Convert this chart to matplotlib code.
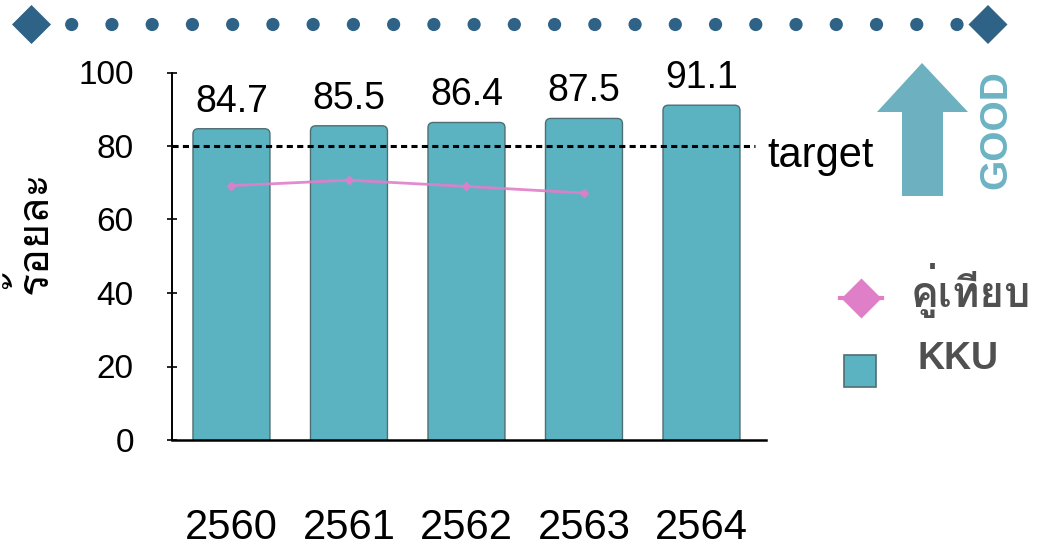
import numpy as np
import matplotlib
matplotlib.use("Agg")
import matplotlib.pyplot as plt
from matplotlib import font_manager
from matplotlib.ft2font import FT2Font
from matplotlib.patches import FancyBboxPatch, Polygon
from matplotlib.lines import Line2D

years = ["2560", "2561", "2562", "2563", "2564"]
kku = [84.7, 85.5, 86.4, 87.5, 91.1]
peer = [69.2, 70.7, 69.0, 67.2]
target = 80

# look for an installed font that can draw Thai
thai_font = None
for f in font_manager.fontManager.ttflist:
    try:
        if ord("ร") in FT2Font(f.fname).get_charmap():
            thai_font = f.name
            break
    except Exception:
        pass
thai_family = [thai_font, "DejaVu Sans"] if thai_font else ["DejaVu Sans"]

plt.rcParams["font.family"] = ["Liberation Sans", "DejaVu Sans"]

W, H = 1038, 547
fig = plt.figure(figsize=(W / 100, H / 100), dpi=100)

bar_col = "#5bb3c2"
edge_col = "#4f6e73"
pink = "#df7fc8"
navy = "#2e6286"
arrow_col = "#6db1c1"

# main axes
ax = fig.add_axes([172 / W, 1 - 440 / H, (766 - 172) / W, (440 - 72.5) / H])
x = np.arange(len(years))
ax.set_xlim(-0.506, 4.549)
ax.set_ylim(0, 100)

bw = 0.655
asp = (117.5 / 3.67)
for i, v in enumerate(kku):
    p = FancyBboxPatch((x[i] - bw / 2, -5), bw, v + 5,
                       boxstyle="round,pad=0,rounding_size=0.045",
                       mutation_aspect=asp, fc=bar_col, ec=edge_col, lw=1.0, zorder=2)
    ax.add_patch(p)
    ax.annotate(f"{v:.1f}", xy=(x[i], v), xytext=(0, 17), textcoords="offset pixels",
                ha="center", va="baseline", fontsize=27)

ax.plot(x[:len(peer)], peer, color=pink, lw=2, marker="D", ms=4, zorder=3, alpha=0.9)

ax.hlines(target, -0.506, 4.455, colors="black", linestyles=(0, (2, 1.4)), lw=2.2, zorder=4,
          clip_on=False)
ax.annotate("target", xy=(4.557, target), xytext=(0, -21), textcoords="offset pixels",
            ha="left", va="baseline", fontsize=30, annotation_clip=False)

ax.spines["top"].set_visible(False)
ax.spines["right"].set_visible(False)
ax.spines["left"].set_linewidth(1.4)
ax.spines["bottom"].set_linewidth(1.8)
ax.set_yticks(range(0, 101, 20))
ax.tick_params(axis="y", direction="inout", length=7, width=1.2, labelsize=24, pad=24)
ax.set_xticks(x)
ax.set_xticklabels(years)
ax.tick_params(axis="x", length=0, labelsize=30, pad=49)

# overlay in pixel units for the decorations
ov = fig.add_axes([0, 0, 1, 1], zorder=-1)
ov.set_xlim(0, W)
ov.set_ylim(H, 0)
ov.axis("off")

ov.text(33, 232, "ร้อยละ", family=thai_family, fontsize=31, rotation=90,
        ha="center", va="center")

for cx in (31.5, 988):
    ov.add_patch(Polygon([(cx - 19.5, 24.5), (cx, 5), (cx + 19.5, 24.5), (cx, 44)],
                         closed=True, fc=navy, ec="none"))
dots = np.linspace(71.7, 957, 23)
ov.scatter(dots, np.full_like(dots, 24.5), s=90, c=navy, edgecolors="none")

ov.add_patch(Polygon([(922, 63), (968, 112), (943, 112), (943, 196), (902, 196),
                      (902, 112), (877, 112)], closed=True, fc=arrow_col, ec="none"))
ov.text(996, 130, "GOOD", rotation=90, ha="center", va="center", fontsize=28,
        fontweight="bold", color="#6db3c4")

# legend
ov.add_line(Line2D([840, 882], [298, 298], color=pink, lw=3))
ov.plot([861], [298], marker="D", ms=20, color=pink, mec="none")
ov.plot([860], [371], marker="s", ms=23, color=bar_col, mec=edge_col, mew=1.2)
ov.text(911, 290, "คู่เทียบ", family=thai_family, fontsize=30, fontweight="bold",
        color="#505050", ha="left", va="center")
ov.text(918, 359, "KKU", fontsize=27, fontweight="bold", color="#505050",
        ha="left", va="center")

fig.savefig("out.png", dpi=100)
